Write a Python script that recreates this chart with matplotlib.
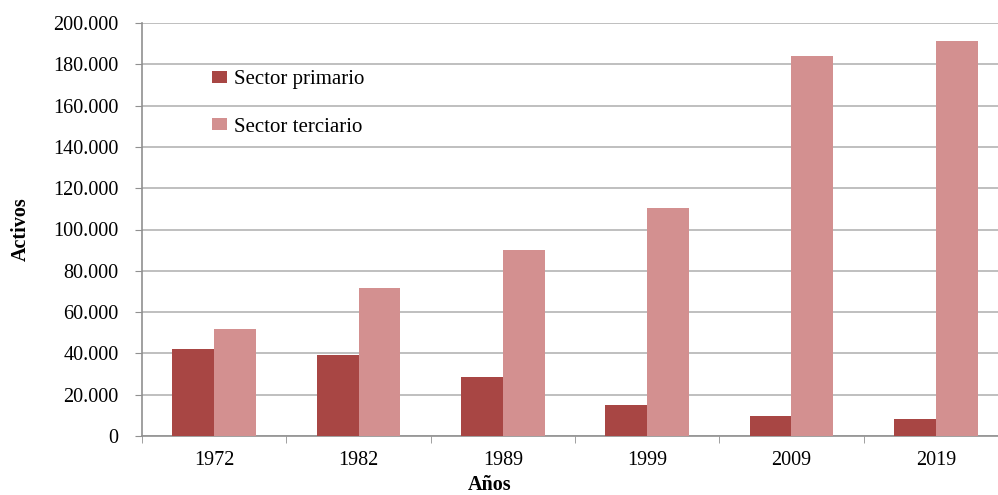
import matplotlib.pyplot as plt
import numpy as np
from matplotlib.ticker import FuncFormatter

years = ["1972", "1982", "1989", "1999", "2009", "2019"]
primario = [42000, 39200, 28500, 15000, 9600, 8000]
terciario = [51800, 71700, 90000, 110400, 183800, 191300]

c_prim = "#A84644"
c_terc = "#D39090"

plt.rcParams['font.family'] = ['Liberation Serif', 'DejaVu Serif']

fig = plt.figure(figsize=(9.98, 4.95), dpi=100)
ax = fig.add_axes([142/998, 1-436/495, (1008-142)/998, (436-23)/495])

x = np.arange(len(years))
w = 0.29
ax.bar(x - w/2, primario, w, color=c_prim, label="Sector primario", zorder=3)
ax.bar(x + w/2, terciario, w, color=c_terc, label="Sector terciario", zorder=3)

ax.set_xlim(-0.5, len(years) - 0.5)
ax.set_ylim(0, 200000)
ax.set_yticks(np.arange(0, 200001, 20000))
ax.yaxis.set_major_formatter(FuncFormatter(lambda v, p: "0" if v == 0 else f"{int(v):,}".replace(",", ".")))
ax.yaxis.grid(True, color="#b4b4b4", linewidth=1.2, zorder=0)

ax.set_xticks(x)
ax.set_xticklabels(years)
ax.set_xticks(np.arange(-0.5, len(years), 1), minor=True)
ax.tick_params(axis="x", which="major", length=0, pad=11, labelsize=14.5)
ax.tick_params(axis="x", which="minor", length=5, color="#909090", direction="out")
ax.tick_params(axis="y", length=5, color="#909090", labelsize=14.5, pad=12)

for s in ["top", "right"]:
    ax.spines[s].set_visible(False)
ax.spines["left"].set_color("#909090")
ax.spines["bottom"].set_color("#909090")
ax.spines["left"].set_linewidth(1.2)
ax.spines["bottom"].set_linewidth(1.2)

ax.set_ylabel("Activos", fontweight="bold", fontsize=14.5)
ax.yaxis.set_label_coords(-0.128, 0.5)
ax.set_xlabel("Años", fontweight="bold", fontsize=14.5)
ax.xaxis.set_label_coords((490-142)/866, -0.094)

ax.legend(loc="upper left", bbox_to_anchor=(0.059, 0.931), frameon=False,
          fontsize=15, handlelength=0.75, handleheight=0.55, labelspacing=1.36,
          handletextpad=0.3)

fig.savefig("out.png", dpi=100)
